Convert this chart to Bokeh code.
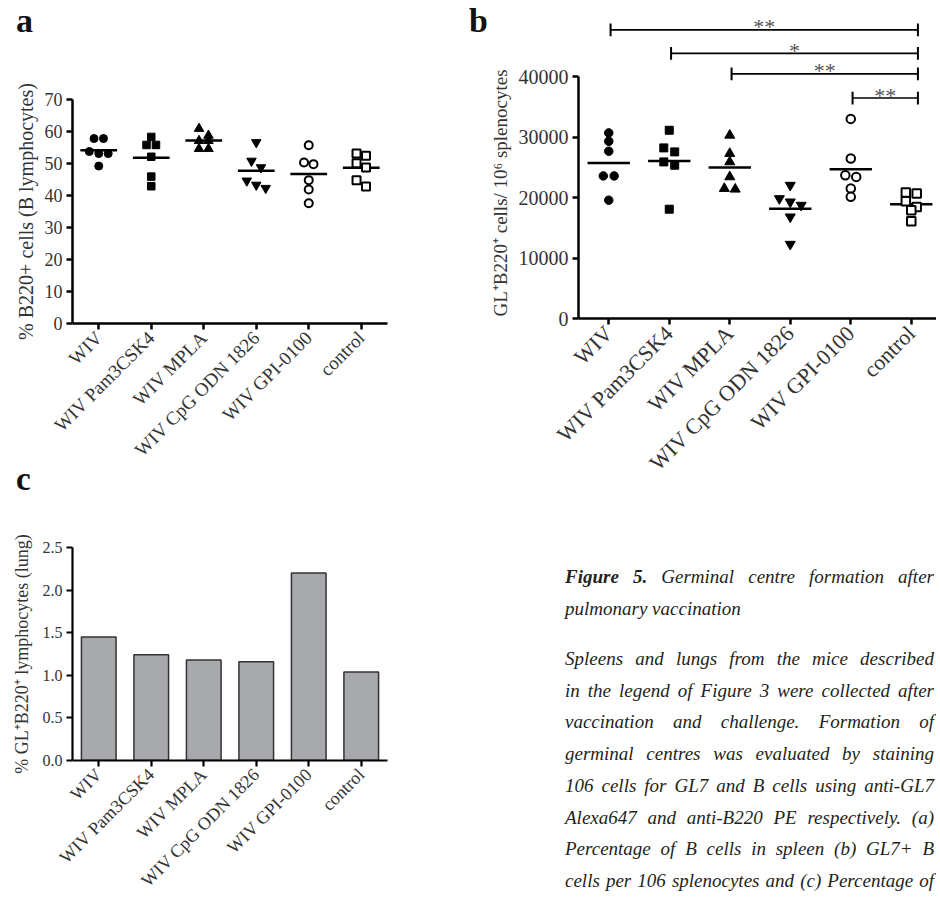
import numpy as np
from bokeh.plotting import figure
from bokeh.models import FixedTicker, Div, NumeralTickFormatter, Spacer
from bokeh.layouts import row, column
from bokeh.embed import file_html
from bokeh.resources import INLINE
from bokeh.core.properties import value

# ---------------- data ----------------
groups = ["WIV", "WIV Pam3CSK4", "WIV MPLA", "WIV CpG ODN 1826", "WIV GPI-0100", "control"]

# panel a: % B220+ cells (B lymphocytes)
a_wiv = [57.8, 57.8, 53.75, 53.1, 53.1, 49.2]
a_pam = [58.3, 55.8, 55.8, 52.1, 45.9, 42.9]
a_mpla = [60.9, 58.75, 57.1, 57.1, 54.6, 54.6]
a_cpg = [56.6, 50.8, 48.75, 44.6, 43.3, 42.3]
a_gpi = [55.7, 50.3, 49.8, 44.8, 41.9, 37.6]
a_ctrl = [53.1, 52.4, 50.1, 48.75, 44.8, 42.8]

# panel b: GL+B220+ cells / 10^6 splenocytes
b_wiv = [30730, 29350, 27700, 23610, 23610, 19590]
b_pam = [31170, 28250, 27590, 25930, 25380, 18100]
b_mpla = [30340, 27310, 25930, 23450, 21520, 21410]
b_cpg = [22070, 19860, 19310, 18760, 16830, 12300]
b_gpi = [33050, 26480, 23720, 23450, 21520, 20140]
b_ctrl = [20860, 20690, 19420, 18480, 17930, 16110]

# significance brackets (panel b)
sig_from = ["WIV", "WIV Pam3CSK4", "WIV MPLA", "WIV GPI-0100"]
sig_to = ["control", "control", "control", "control"]
sig_text = ["**", "*", "**", "**"]
sig_level = [47800, 43900, 40500, 36500]

# panel c: % GL+B220+ lymphocytes (lung)
c_vals = [1.45, 1.24, 1.18, 1.16, 2.20, 1.04]

a_ticks = [0, 10, 20, 30, 40, 50, 60, 70]
b_ticks = [0, 10000, 20000, 30000, 40000]
c_ticks = [0.0, 0.5, 1.0, 1.5, 2.0, 2.5]

panel_letters = ["a", "b", "c"]
caption_bold = "Figure 5."
caption_title = ["Germinal centre formation after", "pulmonary vaccination"]
caption_lines = [
    "Spleens and lungs from the mice described",
    "in the legend of Figure 3 were collected after",
    "vaccination and challenge. Formation of",
    "germinal centres was evaluated by staining",
    "106 cells for GL7 and B cells using anti-GL7",
    "Alexa647 and anti-B220 PE respectively. (a)",
    "Percentage of B cells in spleen (b) GL7+ B",
    "cells per 106 splenocytes and (c) Percentage of",
]

# ---------------- styles ----------------
FONT = "Liberation Serif"
TXT = "#333333"
MARKERS = [("circle", "black"), ("square", "black"), ("triangle", "black"),
           ("inverted_triangle", "black"), ("circle", "white"), ("square", "white")]


def swarm(vals, px_per_unit, thresh_px=7.5, step=0.18):
    order = sorted(range(len(vals)), key=lambda i: -vals[i])
    rows = []
    for i in order:
        if rows and abs(vals[rows[-1][0]] - vals[i]) * px_per_unit < thresh_px:
            rows[-1].append(i)
        else:
            rows.append([i])
    offs = [0.0] * len(vals)
    for r in rows:
        n = len(r)
        for k, i in enumerate(r):
            offs[i] = (k - (n - 1) / 2) * step
    return offs


def style(p, tick_fs, cat_fs, lab_fs, lab_standoff, lw=2.5):
    p.xgrid.visible = False
    p.ygrid.visible = False
    p.outline_line_color = None
    p.background_fill_color = "white"
    p.border_fill_color = "white"
    for ax in (p.xaxis[0], p.yaxis[0]):
        ax.axis_line_width = lw
        ax.axis_line_color = "black"
        ax.major_tick_line_width = lw
        ax.major_tick_line_color = "black"
        ax.major_tick_out = 6
        ax.major_tick_in = 0
        ax.minor_tick_line_color = None
        ax.major_label_text_font = FONT
        ax.major_label_text_color = TXT
        ax.axis_label_text_font = FONT
        ax.axis_label_text_font_style = "normal"
        ax.axis_label_text_color = TXT
    p.yaxis[0].major_label_text_font_size = f"{tick_fs}px"
    p.yaxis[0].major_label_standoff = 4
    p.yaxis[0].axis_label_text_font_size = f"{lab_fs}px"
    p.yaxis[0].axis_label_standoff = lab_standoff
    xa = p.xaxis[0]
    xa.ticker = FixedTicker(ticks=list(range(len(groups))))
    xa.major_label_overrides = {i: g for i, g in enumerate(groups)}
    xa.major_label_orientation = np.pi / 4
    xa.major_label_text_font_size = f"{cat_fs}px"
    xa.major_label_standoff = 5


def letter_div(txt, w, h, left, top, fs):
    html = (f'<div style="position:relative;width:{w}px;height:{h}px;">'
            f'<span style="position:absolute;left:{left}px;top:{top}px;'
            f'font-family:\'Liberation Serif\',serif;font-weight:bold;font-size:{fs}px;'
            f'line-height:1;color:#111111;">{txt}</span></div>')
    return Div(text=html, width=w, height=h, margin=0)


def dot_plot(p, series, px_per_unit, sizes):
    for i, (vals, (mk, fill)) in enumerate(zip(series, MARKERS)):
        m = float(np.mean(vals))
        p.segment(x0=[i - 0.35], y0=[m], x1=[i + 0.35], y1=[m], line_color="black", line_width=2.5)
        offs = swarm(vals, px_per_unit)
        xs = [i + o for o in offs]
        p.scatter(xs, vals, marker=mk, size=sizes[mk] if fill == "black" else sizes["open"],
                  fill_color=fill, line_color="black", line_width=1 if fill == "black" else 2)


# ---------------- panel a ----------------
pa = figure(width=460, height=436, x_range=(-0.5, 5.5), y_range=(0, 70),
            output_backend="svg", toolbar_location=None,
            min_border_left=61, min_border_right=61, min_border_top=61, min_border_bottom=151)
style(pa, 18, 19, 20, 5)
pa.yaxis[0].ticker = FixedTicker(ticks=a_ticks)
pa.yaxis[0].axis_label = "% B220+ cells (B lymphocytes)"
dot_plot(pa, [a_wiv, a_pam, a_mpla, a_cpg, a_gpi, a_ctrl], 224 / 70,
         {"circle": 8, "square": 7.5, "triangle": 9.5, "inverted_triangle": 9.5, "open": 8})

# ---------------- panel b ----------------
pb = figure(width=450, height=532, x_range=(-0.5, 5.417), y_range=(0, 51000),
            output_backend="svg", toolbar_location=None,
            min_border_left=92, min_border_right=0, min_border_top=2, min_border_bottom=222)
style(pb, 20, 22, 19, 5)
pb.yaxis[0].ticker = FixedTicker(ticks=b_ticks)
pb.yaxis[0].bounds = (0, 40000)
pb.yaxis[0].axis_label = "GL\u207aB220\u207a cells/ 10\u2076 splenocytes" + "\u00a0" * 12
dot_plot(pb, [b_wiv, b_pam, b_mpla, b_cpg, b_gpi, b_ctrl], 241.6 / 40000,
         {"circle": 8.5, "square": 8, "triangle": 10, "inverted_triangle": 10, "open": 8.5})

cap = 1050
bx0 = [groups.index(g) + 0.03 for g in sig_from]
bx1 = [groups.index(g) + 0.11 for g in sig_to]
pb.segment(x0=bx0, y0=sig_level, x1=bx1, y1=sig_level, line_color="black", line_width=1.6)
pb.segment(x0=bx0, y0=[v - cap for v in sig_level], x1=bx0, y1=[v + cap for v in sig_level],
           line_color="black", line_width=2)
pb.segment(x0=bx1, y0=[v - cap for v in sig_level], x1=bx1, y1=[v + cap for v in sig_level],
           line_color="black", line_width=2)
pb.text(x=[(a + b) / 2 for a, b in zip(bx0, bx1)], y=sig_level, text=sig_text,
        text_font=value(FONT), text_font_size="22px", text_color="#555555",
        text_align="center", text_baseline="alphabetic", y_offset=-3)

# ---------------- panel c ----------------
pc = figure(width=460, height=401, x_range=(-0.5, 5.5), y_range=(0, 2.5),
            output_backend="svg", toolbar_location=None,
            min_border_left=60, min_border_right=81, min_border_top=47, min_border_bottom=141)
style(pc, 16, 18, 18, 8, lw=2.2)
pc.yaxis[0].ticker = FixedTicker(ticks=c_ticks)
pc.yaxis[0].formatter = NumeralTickFormatter(format="0.0")
pc.yaxis[0].axis_label = "% GL\u207aB220\u207a lymphocytes (lung)"
pc.vbar(x=list(range(len(groups))), top=c_vals, width=0.66, bottom=0,
        fill_color="#a8a9ad", line_color="#333333", line_width=1.5)

# ---------------- panel letters ----------------
div_a = letter_div(panel_letters[0], 460, 30, 8, -4, 34)
div_b = letter_div(panel_letters[1], 18, 532, 1, -4, 34)
div_c = letter_div(panel_letters[2], 460, 26, 8, -11, 33)

# ---------------- caption ----------------
js = "white-space:nowrap;text-align:justify;text-align-last:justify;"
html = ('<div style="position:relative;width:468px;height:361px;overflow:hidden;'
        'font-family:\'Liberation Serif\',serif;font-style:italic;font-size:19px;'
        'line-height:31.7px;color:#231f20;">'
        '<div style="position:absolute;left:97px;top:21px;width:369px;">')
html += f'<div style="{js}"><b>{caption_bold}</b> {caption_title[0]}</div>'
html += f'<div style="white-space:nowrap;">{caption_title[1]}</div>'
html += '<div style="height:18.6px"></div>'
for ln in caption_lines:
    html += f'<div style="{js}">{ln}</div>'
html += '</div></div>'
div = Div(text=html, width=468, height=361, margin=0)

body = row(column(div_a, pa, div_c, pc, spacing=0),
           column(row(div_b, pb, spacing=0), div, spacing=0), spacing=0)
layout = column(Spacer(width=936, height=8),
                row(Spacer(width=8, height=893), body, spacing=0), spacing=0)
open("out.html", "w").write(file_html(layout, INLINE))
